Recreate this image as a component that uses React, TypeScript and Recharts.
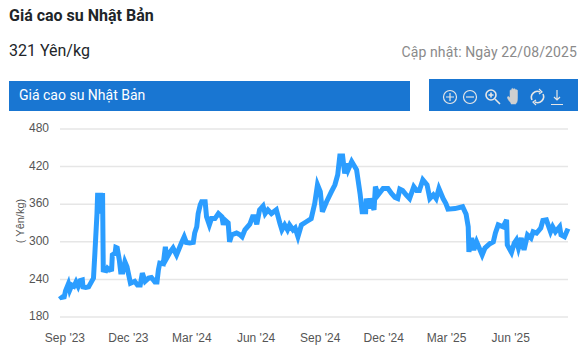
import { LineChart, Line, XAxis, YAxis, CartesianGrid } from "recharts";

// days since 25 Aug 2023
const days = [
  0, 2, 6, 8, 12, 14, 17, 20, 23, 26, 29, 32, 33, 37, 41, 45, 48, 50, 53, 54, 56, 58, 60, 61, 62, 66, 68, 71, 74, 75, 79, 80,
  82, 85, 87, 90, 93, 96, 101, 105, 107, 111, 115, 118, 122, 127, 131, 136, 139, 141, 143, 148, 151, 153, 158, 162,
  167, 174, 178, 181, 186, 191, 193, 196, 198, 201, 203, 208, 210, 214, 217, 222, 227, 232, 234, 236, 241, 243, 246,
  253, 258, 261, 265, 272, 276, 279, 282, 286, 291, 294, 298, 303, 310, 315, 318, 322, 326, 329, 334, 337, 341, 346,
  353, 360, 365, 369, 373, 376, 382, 389, 394, 398, 401, 405, 408, 411, 413, 418, 425, 430, 433, 438, 439, 442, 444,
  450, 452, 456, 463, 470, 475, 480, 484, 487, 491, 496, 501, 507, 511, 515, 520, 526, 530, 535, 539, 543, 549, 553,
  556, 566, 577, 582, 585, 586, 590, 593, 597, 602, 605, 609, 616, 621, 624, 628, 635, 640, 641, 647, 651, 654, 657,
  661, 665, 670, 675, 678, 683, 689, 692, 697, 703, 706, 710, 716, 718, 723, 728,
];

const prices = [
  214, 211, 212, 222, 233, 223, 231, 229, 236, 229, 238, 239, 228, 227, 228, 236, 242, 282, 345, 378, 345, 378, 345, 378, 255,
  254, 258, 255, 256, 279, 282, 291, 290, 271, 252, 252, 268, 260, 234, 236, 237, 231, 231, 250, 237, 242, 243, 236,
  236, 255, 266, 265, 292, 274, 284, 290, 279, 298, 308, 299, 298, 299, 314, 324, 345, 359, 364, 364, 340, 327, 337,
  337, 345, 340, 327, 335, 330, 300, 311, 314, 311, 308, 319, 328, 340, 340, 328, 351, 357, 345, 351, 345, 351, 330,
  319, 327, 319, 327, 319, 322, 308, 327, 332, 337, 361, 391, 380, 348, 364, 380, 391, 407, 437, 437, 409, 425, 415,
  428, 415, 377, 348, 348, 369, 353, 369, 351, 388, 375, 385, 385, 377, 371, 369, 384, 382, 375, 369, 388, 382, 382,
  399, 391, 369, 375, 369, 385, 369, 361, 352, 353, 356, 344, 324, 284, 306, 287, 300, 287, 279, 290, 297, 300, 314,
  327, 324, 335, 295, 283, 298, 303, 290, 306, 287, 311, 306, 316, 314, 322, 334, 335, 316, 324, 316, 324, 311, 308,
  321,
];

const tickDays = [7, 98, 189, 281, 373, 464, 554, 646];
const tickLabels = ["Sep '23", "Dec '23", "Mar '24", "Jun '24", "Sep '24", "Dec '24", "Mar '25", "Jun '25"];
const yTicks = [180, 240, 300, 360, 420, 480];

const chartData = days.map((day, i) => ({ day, price: prices[i] }));

const roboto = "Roboto, sans-serif";
const axisFont = "'Liberation Sans', Arial, sans-serif";

function Toolbox() {
  return (
    <svg
      width={149}
      height={32}
      style={{ position: "absolute", left: 429, top: 79, background: "#1976d2" }}
      fill="none"
      stroke="#e6e6e6"
      strokeWidth={1.2}
    >
      <circle cx={21} cy={18} r={6.5} />
      <path d="M17 18h8M21 14v8" />
      <circle cx={41} cy={18} r={6.5} />
      <path d="M37 18h8" />
      <circle cx={62} cy={16} r={5} strokeWidth={1.6} />
      <path d="M59.5 16h5M62 13.5v5M66 20l5 5" strokeWidth={1.6} />
      <path
        d="M82 24c-2-2-4-5-3.500-6s2 0 2.500 1v-7c0-1.500 1.500-1.500 1.500 0v-1.500c0-1.500 2-1.500 2 0 0-1 2-1 2 0v1c0-1 2-1 2 0v8c0 3-1 5-2 5.500h-4.500z"
        fill="#d0d0d0"
        stroke="#d0d0d0"
        strokeWidth={0.5}
      />
      <path d="M103 21a6 6 0 0 1 8-8M114 15a6 6 0 0 1-8 8" strokeWidth={1.6} />
      <path d="M110 10l3 3-3 2M107 26l-3-3 3-2" strokeWidth={1.2} />
      <path d="M128 11v10M125 18l3 3 3-3M122 25.500h12" />
    </svg>
  );
}

export default function App() {
  return (
    <div style={{ position: "fixed", left: 0, top: 0, width: 588, height: 359, background: "#fff", fontFamily: roboto, overflow: "hidden" }}>
      <div style={{ position: "absolute", left: 9, top: 6, fontSize: 16, fontWeight: 700, color: "#212529", lineHeight: "19px" }}>
        Giá cao su Nhật Bản
      </div>
      <div style={{ position: "absolute", left: 9, top: 41, fontSize: 16, color: "#212529", lineHeight: "19px" }}>
        321 Yên/kg
      </div>
      <div style={{ position: "absolute", right: 11, top: 44, fontSize: 14, letterSpacing: 0.12, color: "#8a8a8a", lineHeight: "17px" }}>
        Cập nhật: Ngày 22/08/2025
      </div>
      <div
        style={{
          position: "absolute",
          left: 9,
          top: 81,
          width: 401,
          height: 30,
          background: "#1976d2",
          color: "#fff",
          fontSize: 14,
          lineHeight: "28px",
          paddingLeft: 10,
          boxSizing: "border-box",
        }}
      >
        Giá cao su Nhật Bản
      </div>
      <Toolbox />
      <div style={{ position: "absolute", left: 0, top: 110 }}>
        <LineChart width={588} height={249} data={chartData} margin={{ top: 19, right: 20, bottom: 0, left: 0 }}>
          <CartesianGrid horizontal vertical={false} stroke="#e6e6e6" strokeWidth={1.5} />
          <XAxis
            dataKey="day"
            type="number"
            domain={[0, 728]}
            ticks={tickDays}
            tickFormatter={(d: number) => tickLabels[tickDays.indexOf(d)]}
            interval={0}
            height={42}
            axisLine={false}
            tickLine={false}
            tickMargin={10}
            tick={{ fontSize: 12, fill: "#555", fontFamily: axisFont }}
          />
          <YAxis
            type="number"
            domain={[180, 480]}
            ticks={yTicks}
            width={60}
            axisLine={false}
            tickLine={false}
            tickMargin={5}
            tick={{ fontSize: 12, fill: "#555", fontFamily: axisFont, dy: -1 }}
            label={{
              value: "( Yên/kg)",
              angle: -90,
              position: "insideLeft",
              offset: 20,
              dy: -2,
              style: { fontSize: 11, fill: "#555", fontFamily: axisFont, textAnchor: "middle" },
            }}
          />
          <Line
            dataKey="price"
            type="linear"
            stroke="#2b9dff"
            strokeWidth={5}
            dot={false}
            activeDot={false}
            isAnimationActive={false}
          />
        </LineChart>
      </div>
    </div>
  );
}
